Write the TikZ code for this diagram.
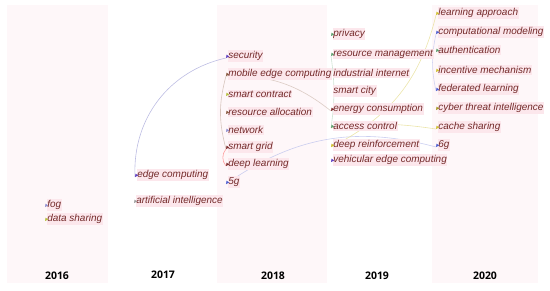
\documentclass[tikz,border=0pt]{standalone}
\usepackage{fontspec}
\setmainfont{Liberation Sans}
\newfontfamily\yearfont{Open Sans}
\usetikzlibrary{arrows.meta}
\definecolor{colbg}{HTML}{FEF7F9}
\definecolor{labbg}{HTML}{FCE7EC}
\definecolor{labtx}{HTML}{742A2A}
\definecolor{cpurple}{HTML}{6040C0}
\definecolor{cblue}{HTML}{5060D0}
\definecolor{cbrown}{HTML}{8A5A40}
\definecolor{cdred}{HTML}{803030}
\definecolor{cyg}{HTML}{B8C040}
\definecolor{cgreen}{HTML}{60A070}
\definecolor{cgray}{HTML}{A0A0A0}
\definecolor{clil}{HTML}{9090D0}
\definecolor{cyel}{HTML}{D0C030}
\newcommand\kwnode[4]{\node[kwlab] (#1) at (#2+1.5,#3) {#4};}
\newcommand\mkr[2]{\fill[#2] (#1) -- ++(0.6,-3.4) -- ++(2.6,2.0) -- cycle;}
\begin{document}
\begin{tikzpicture}[x=1bp,y=-1bp,
  kwlab/.style={anchor=west, font=\fontsize{10}{12}\selectfont\itshape, text=labtx, fill=labbg, inner xsep=0.6bp, inner ysep=1.2bp},
  yearlab/.style={font=\yearfont\bfseries\fontsize{10.5}{12}\selectfont, text=black},
  con/.style={line width=0.6bp, opacity=0.75}]
\useasboundingbox (0,0) rectangle (550,290);
% column backgrounds
\fill[colbg] (7,5) rectangle (108,283);
\fill[colbg] (217,5) rectangle (327,283);
\fill[colbg] (432,5) rectangle (538,283);
% marker coordinates
\coordinate (m-fog) at (45,207);
\coordinate (m-ds) at (45,221);
\coordinate (m-ec) at (135,177);
\coordinate (m-ai) at (134,203);
\coordinate (m-sec) at (226,58);
\coordinate (m-mec) at (226,76);
\coordinate (m-sc) at (226,96);
\coordinate (m-ra) at (226,114);
\coordinate (m-net) at (226,132);
\coordinate (m-sg) at (226,149);
\coordinate (m-dl) at (226,166);
\coordinate (m-5g) at (226,184);
\coordinate (m-priv) at (331,36);
\coordinate (m-rm) at (331,56);
\coordinate (m-ii) at (331,75);
\coordinate (m-scity) at (331,93);
\coordinate (m-enc) at (331,111);
\coordinate (m-acc) at (331,128);
\coordinate (m-dr) at (331,147);
\coordinate (m-vec) at (331,162);
\coordinate (m-la) at (436,15);
\coordinate (m-cm) at (436,34);
\coordinate (m-auth) at (436,52);
\coordinate (m-im) at (436,72);
\coordinate (m-fl) at (436,91);
\coordinate (m-cti) at (436,110);
\coordinate (m-cs) at (436,129);
\coordinate (m-6g) at (436,147);
% connectors
\draw[con, color=clil!80] (m-ec) to[bend left=40] (m-sec);
\draw[con, color=cblue!40] (m-5g) to[bend left=25] (m-6g);
\draw[con, color=cbrown!40] (m-mec) to[bend left=20] (m-enc);
\draw[con, color=cbrown!45] (m-mec) to[bend right=15] (m-sg);
\draw[con, color=red!50] (m-sg) to[bend right=40] (m-dl);
\draw[con, color=cgreen!40] (m-rm) to[bend left=8] (m-acc);
\draw[con, color=cyel!55] (m-acc) to[bend left=8] (m-cs);
\draw[con, color=cyel!55] (m-dr) to[bend right=25] (m-la);
\draw[con, color=cblue!35] (m-cm) to[bend right=12] (m-fl);
% labels
\kwnode{fog}{45}{205}{fog}
\kwnode{ds}{45}{219}{data sharing}
\kwnode{ec}{135}{175}{edge computing}
\kwnode{ai}{134}{201}{artificial intelligence}
\kwnode{sec}{226}{56}{security}
\kwnode{mec}{226}{74}{mobile edge computing}
\kwnode{sc}{226}{94}{smart contract}
\kwnode{ra}{226}{112}{resource allocation}
\kwnode{net}{226}{130}{network}
\kwnode{sg}{226}{147}{smart grid}
\kwnode{dl}{226}{164}{deep learning}
\kwnode{fiveg}{226}{182}{5g}
\kwnode{priv}{331}{34}{privacy}
\kwnode{rm}{331}{54}{resource management}
\kwnode{ii}{331}{73}{industrial internet}
\kwnode{scity}{331}{91}{smart city}
\kwnode{enc}{331}{109}{energy consumption}
\kwnode{acc}{331}{126}{access control}
\kwnode{dr}{331}{145}{deep reinforcement}
\kwnode{vec}{331}{160}{vehicular edge computing}
\kwnode{la}{436}{13}{learning approach}
\kwnode{cm}{436}{32}{computational modeling}
\kwnode{auth}{436}{50}{authentication}
\kwnode{im}{436}{70}{incentive mechanism}
\kwnode{fl}{436}{89}{federated learning}
\kwnode{cti}{436}{108}{cyber threat intelligence}
\kwnode{cs}{436}{127}{cache sharing}
\kwnode{sixg}{436}{145}{6g}
% markers
\mkr{m-fog}{clil}
\mkr{m-ds}{cyg}
\mkr{m-ec}{cpurple}
\mkr{m-ai}{cgray}
\mkr{m-sec}{cpurple}
\mkr{m-mec}{cbrown}
\mkr{m-sc}{cyg}
\mkr{m-ra}{cbrown}
\mkr{m-net}{clil}
\mkr{m-sg}{cdred}
\mkr{m-dl}{cdred}
\mkr{m-5g}{cblue}
\mkr{m-priv}{cgreen}
\mkr{m-rm}{cgreen}
\mkr{m-enc}{cdred}
\mkr{m-acc}{cgreen}
\mkr{m-dr}{cyel}
\mkr{m-vec}{cpurple}
\mkr{m-la}{cyel}
\mkr{m-cm}{cblue}
\mkr{m-auth}{cgreen}
\mkr{m-im}{cyel}
\mkr{m-fl}{cblue}
\mkr{m-cti}{cyel!80!black}
\mkr{m-cs}{cyel}
\mkr{m-6g}{cblue}
% years
\node[yearlab] (y2016) at (57,276) {2016};
\node[yearlab] (y2017) at (163,275) {2017};
\node[yearlab] (y2018) at (273,276) {2018};
\node[yearlab] (y2019) at (377,276) {2019};
\node[yearlab] (y2020) at (485,276) {2020};
\end{tikzpicture}
\end{document}
